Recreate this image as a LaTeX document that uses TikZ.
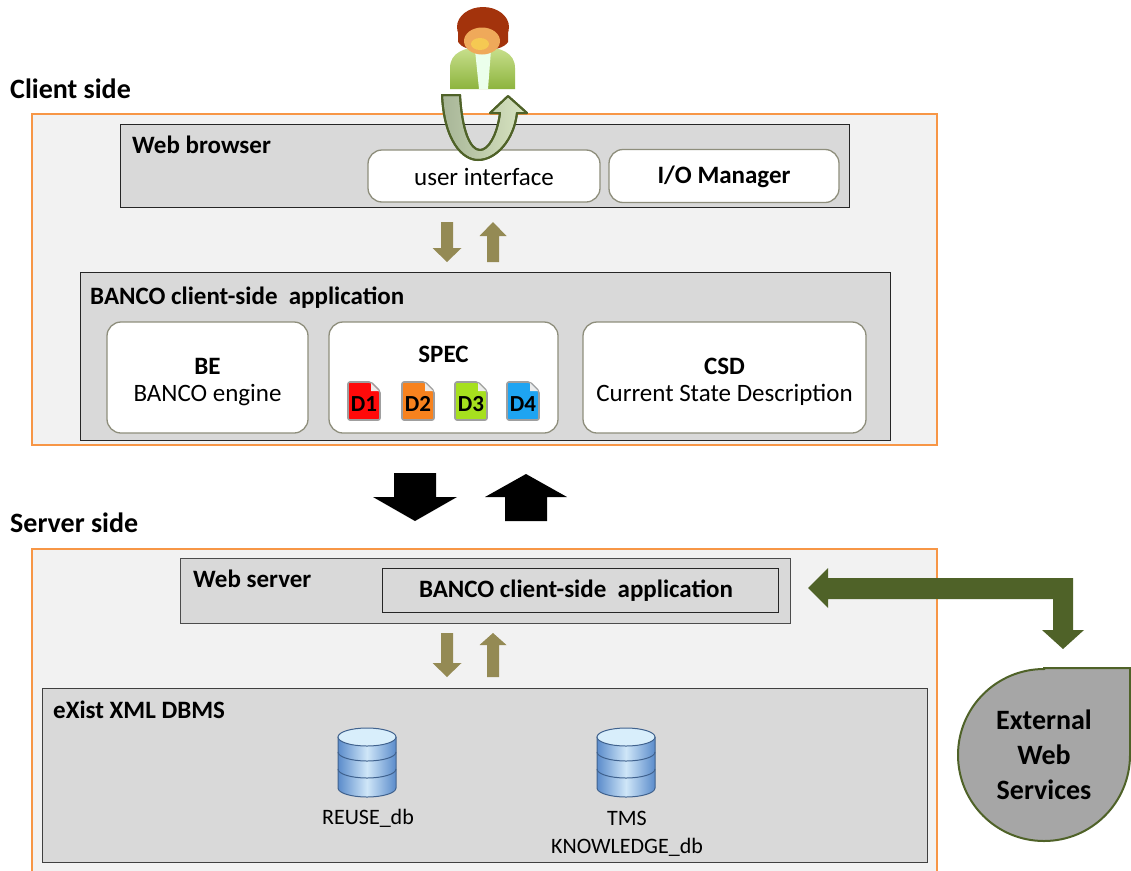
\documentclass[tikz,border=0pt]{standalone}
\usepackage{fontspec}
\setmainfont{Carlito}
\usetikzlibrary{calc}

\definecolor{sideorange}{HTML}{F79646}
\definecolor{panelbg}{HTML}{F2F2F2}
\definecolor{boxgray}{HTML}{D9D9D9}
\definecolor{roundedge}{HTML}{8E8E7C}
\definecolor{olivearrow}{HTML}{948A54}
\definecolor{darkgreen}{HTML}{4F6228}
\definecolor{ewsgray}{HTML}{A6A6A6}
\definecolor{dbdark}{HTML}{5B8CCB}
\definecolor{dblight}{HTML}{CFE6F8}
\definecolor{dbtop}{HTML}{D8EEFB}
\definecolor{hair}{HTML}{A3330C}
\definecolor{face}{HTML}{EFA95A}
\definecolor{bodygreen}{HTML}{8DB43E}
\definecolor{bodylight}{HTML}{C9E08E}
\definecolor{uleft}{HTML}{A7B597}
\definecolor{uright}{HTML}{D9E5C2}
\definecolor{docred}{HTML}{FF0A0A}
\definecolor{docorange}{HTML}{F7821E}
\definecolor{doclime}{HTML}{A6E01E}
\definecolor{docblue}{HTML}{1EA4F2}

\tikzset{
  sidebox/.style={draw=sideorange, line width=2pt, fill=panelbg},
  graybox/.style={draw=black!85, line width=1pt, fill=boxgray},
  whitebox/.style={draw=roundedge, line width=1.3pt, fill=white, rounded corners=14pt},
  bigtitle/.style={font=\fontsize{28}{32}\selectfont\bfseries, anchor=base west, inner sep=0pt},
  boxtitle/.style={font=\fontsize{25}{30}\selectfont\bfseries, anchor=base west, inner sep=0pt},
  plainlabel/.style={font=\fontsize{25}{30}\selectfont, inner sep=0pt},
  boldlabel/.style={font=\fontsize{25}{30}\selectfont\bfseries, inner sep=0pt},
  dblabel/.style={font=\fontsize{22}{28}\selectfont, inner sep=0pt},
  olivefill/.style={fill=olivearrow},
  blackfill/.style={fill=black},
}

% vertical block arrows: centre x, tail y, tip y, shaft half width, head half width, head length, style
\newcommand\blkdown[7]{%
  \fill[#7] (#1-#4,#2) -- (#1+#4,#2) -- (#1+#4,#3-#6) -- (#1+#5,#3-#6)
    -- (#1,#3) -- (#1-#5,#3-#6) -- (#1-#4,#3-#6) -- cycle;}
\newcommand\blkup[7]{%
  \fill[#7] (#1-#4,#2) -- (#1+#4,#2) -- (#1+#4,#3+#6) -- (#1+#5,#3+#6)
    -- (#1,#3) -- (#1-#5,#3+#6) -- (#1-#4,#3+#6) -- cycle;}

% document icon with folded corner: top-left x, y, colour, name, text
\newcommand\docicon[5]{%
  \begin{scope}[shift={(#1,#2)}]
    \draw[fill=#3, draw=gray!75, line width=1.6pt, rounded corners=2pt]
      (0,0) -- (23,0) -- (32,9) -- (32,38) -- (0,38) -- cycle;
    \fill[white!85!gray] (23,1) -- (23,9) -- (31,9) -- cycle;
    \node[font=\fontsize{23}{26}\selectfont\bfseries, inner sep=0pt] (#4) at (16,22) {#5};
  \end{scope}}

% database cylinder: centre x and y of the top ellipse
\newcommand\dbicon[2]{%
  \begin{scope}[shift={(#1,#2)}]
    \shade[left color=dbdark, right color=dbdark, middle color=dblight]
      (-29,0) -- (-29,51) arc[start angle=180, end angle=0, x radius=29, y radius=9]
      -- (29,0) -- cycle;
    \draw[dbdark!70!black, line width=1pt]
      (-29,0) -- (-29,51) arc[start angle=180, end angle=0, x radius=29, y radius=9] -- (29,0);
    \draw[dbdark!70!black, line width=1pt]
      (-29,15) arc[start angle=180, end angle=0, x radius=29, y radius=9];
    \draw[dbdark!70!black, line width=1pt]
      (-29,32) arc[start angle=180, end angle=0, x radius=29, y radius=9];
    \draw[dbdark!70!black, line width=1pt, fill=dbtop] (0,0) ellipse[x radius=29, y radius=9];
  \end{scope}}

\begin{document}
\begin{tikzpicture}[x=1pt, y=-1pt]
\useasboundingbox (0,0) rectangle (1131,870);
\fill[white] (0,0) rectangle (1131,870);

% ---------------- client side ----------------
\node[bigtitle] (clienttitle) at (10,98) {Client side};
\draw[sidebox] (32,114) rectangle (937,445);

\draw[graybox] (120,124) rectangle (849,207);
\node[boxtitle] (browsertitle) at (132,153) {Web browser};
\node[whitebox, minimum width=232pt, minimum height=52pt] (ui) at (484,176) {};
\node[plainlabel] (uitext) at (484,177) {user interface};
\node[whitebox, minimum width=230pt, minimum height=53pt] (io) at (724,176) {};
\node[boldlabel] (iotext) at (724,177) {I/O Manager};

\blkdown{447}{222}{262}{6}{14.5}{14}{olivefill}
\blkup{493}{262}{222}{6}{13.5}{14}{olivefill}

\draw[graybox] (80,272) rectangle (890,440);
\node[boxtitle] (apptitle) at (90,304) {BANCO client-side~ application};

\node[whitebox, minimum width=201pt, minimum height=111pt] (be) at (207.5,377.5) {};
\node[boldlabel] (betitle) at (207.5,366) {BE};
\node[plainlabel] (betext) at (207.5,395) {BANCO engine};

\node[whitebox, minimum width=229pt, minimum height=111pt] (spec) at (443.5,377.5) {};
\node[boldlabel] (spectitle) at (443.5,354) {SPEC};
\docicon{348}{382}{docred}{d1}{D1}
\docicon{402}{382}{docorange}{d2}{D2}
\docicon{455}{382}{doclime}{d3}{D3}
\docicon{507}{382}{docblue}{d4}{D4}

\node[whitebox, minimum width=283pt, minimum height=111pt] (csd) at (724.5,377.5) {};
\node[boldlabel] (csdtitle) at (724.5,366) {CSD};
\node[plainlabel] (csdtext) at (724.5,395) {Current State Description};

% ---------------- user and interaction loop ----------------
\shade[top color=bodylight, bottom color=bodygreen]
  (450,89) -- (450,68) .. controls (450,53) and (464,47) .. (482,47)
  .. controls (501,47) and (515,53) .. (515,68) -- (515,89) -- cycle;
\fill[white!92!green] (475,50) -- (491,50) -- (488,89) -- (479,89) -- cycle;
\fill[hair] (483,27) ellipse[x radius=26, y radius=20];
\fill[hair] (458,30) -- (458,42) .. controls (462,48) and (470,50) .. (482,50)
  .. controls (495,50) and (504,48) .. (508,42) -- (508,30) -- cycle;
\fill[face] (482,41) ellipse[x radius=18, y radius=13.5];
\fill[face!70!yellow!90!white] (480,44) ellipse[x radius=9, y radius=6];

\shade[left color=uleft, right color=uright, draw=darkgreen, line width=2pt, line join=round]
  (442,95) .. controls (444,140) and (462,160) .. (478,160)
  .. controls (496,160) and (514,140) .. (517,113) -- (527,113) -- (508,96)
  -- (490,113) -- (500,113) .. controls (497,136) and (488,150) .. (480,150)
  .. controls (470,150) and (462,130) .. (460,95) -- cycle;
\draw[darkgreen, line width=2pt, line join=round]
  (442,95) .. controls (444,140) and (462,160) .. (478,160)
  .. controls (496,160) and (514,140) .. (517,113) -- (527,113) -- (508,96)
  -- (490,113) -- (500,113) .. controls (497,136) and (488,150) .. (480,150)
  .. controls (470,150) and (462,130) .. (460,95) -- cycle;

% ---------------- client / server exchange ----------------
\blkdown{415}{473}{521}{21}{42}{24}{blackfill}
\blkup{526}{521}{474}{21}{41}{23}{blackfill}

% ---------------- server side ----------------
\node[bigtitle] (servertitle) at (10,532) {Server side};
\draw[sidebox] (32,549) rectangle (937,880);

\draw[graybox, draw=black!70] (180,558) rectangle (790,623);
\node[boxtitle] (webservertitle) at (193,587) {Web server};
\node[graybox, minimum width=396pt, minimum height=44pt] (srvapp) at (580,590) {};
\node[boldlabel] (srvapptext) at (576,591) {BANCO client-side~ application};

\blkdown{447}{633}{677}{6}{14.5}{14}{olivefill}
\blkup{493}{677}{633}{6}{13.5}{12}{olivefill}

\draw[graybox, draw=black!75] (42,688) rectangle (927,862);
\node[boxtitle] (dbmstitle) at (53,718) {eXist XML DBMS};

\dbicon{367}{737}
\node[dblabel] (reuse) at (368,818) {REUSE\_db};
\dbicon{626}{737}
\node[dblabel] (tms) at (627,818) {TMS};
\node[dblabel] (knowledge) at (627,847) {KNOWLEDGE\_db};

% ---------------- external web services ----------------
\draw[fill=ewsgray, draw=darkgreen, line width=2pt]
  (1044,668) -- (1130,668) -- (1130,755)
  arc[start angle=0, end angle=270, radius=86] -- cycle;
\node[font=\fontsize{28}{35}\selectfont\bfseries, align=center, inner sep=0pt] (ews) at (1044,755)
  {External\\Web\\Services};

\coordinate (wsend) at (808,588);
\coordinate (ewsend) at (1063,649);
\fill[darkgreen] (wsend) -- (828,568) -- (828,578) -- (1073,578) -- (1073,630)
  -- (1084,630) -- (ewsend) -- (1042,630) -- (1053,630) -- (1053,599)
  -- (828,599) -- (828,608) -- cycle;
\end{tikzpicture}
\end{document}
